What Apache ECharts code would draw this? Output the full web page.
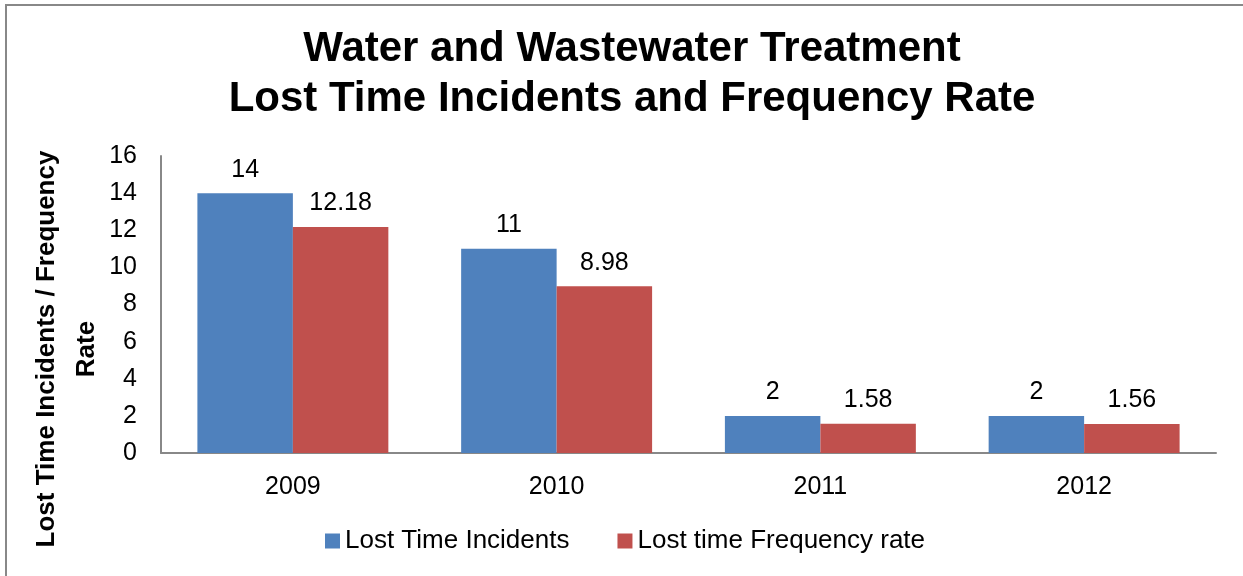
<!DOCTYPE html>
<html>
<head>
<meta charset="utf-8">
<script src="https://cdn.jsdelivr.net/npm/echarts@6/dist/echarts.min.js"></script>
<style>
  html, body { margin: 0; padding: 0; background: #fff; }
  #chart { width: 1243px; height: 576px; }
</style>
</head>
<body>
<div id="chart"></div>
<script>
const years = ['2009', '2010', '2011', '2012'];
const lostTimeIncidents = [14, 11, 2, 2];
const frequencyRate = [12.18, 8.98, 1.58, 1.56];
const yTicks = { min: 0, max: 16, interval: 2 };

const myChart = echarts.init(document.getElementById('chart'));
const font = 'Liberation Sans, Arial, sans-serif';

const option = {
  backgroundColor: '#fff',
  animation: false,
  textStyle: { fontFamily: font },
  title: {
    text: 'Water and Wastewater Treatment\nLost Time Incidents and Frequency Rate',
    left: 627,
    textAlign: 'center',
    top: 19,
    textStyle: { fontSize: 42, fontWeight: 'bold', color: '#000', lineHeight: 50, fontFamily: font }
  },
  legend: {
    bottom: 17,
    left: 320,
    itemWidth: 15,
    itemHeight: 15,
    itemGap: 48,
    icon: 'rect',
    textStyle: { fontSize: 26, color: '#000', fontFamily: font }
  },
  grid: { left: 161, right: 27, top: 156, bottom: 123 },
  xAxis: {
    type: 'category',
    data: years,
    axisLine: { lineStyle: { color: '#888', width: 2 } },
    axisTick: { show: false },
    axisLabel: { fontSize: 25, color: '#000', margin: 22 }
  },
  yAxis: {
    type: 'value',
    min: yTicks.min,
    max: yTicks.max,
    interval: yTicks.interval,
    axisLine: { show: true, lineStyle: { color: '#888', width: 2 } },
    axisTick: { show: false },
    splitLine: { show: false },
    axisLabel: { fontSize: 25, color: '#000', margin: 24 }
  },
  graphic: [
    {
      type: 'rect',
      shape: { x: 6, y: 5, width: 1260, height: 600 },
      style: { fill: 'none', stroke: '#888', lineWidth: 2 },
      silent: true
    },
    {
      type: 'text',
      x: 67,
      y: 349,
      rotation: Math.PI / 2,
      style: {
        text: 'Lost Time Incidents / Frequency\nRate',
        font: 'bold 26px ' + font,
        fill: '#000',
        align: 'center',
        verticalAlign: 'middle',
        lineHeight: 40
      }
    }
  ],
  series: [
    {
      name: 'Lost Time Incidents',
      type: 'bar',
      data: lostTimeIncidents,
      barGap: 0,
      barCategoryGap: '27.6%',
      itemStyle: { color: '#4F81BD' },
      label: { show: true, position: 'top', distance: 11, fontSize: 25, color: '#000' }
    },
    {
      name: 'Lost time Frequency rate',
      type: 'bar',
      data: frequencyRate,
      itemStyle: { color: '#C0504D' },
      label: { show: true, position: 'top', distance: 11, fontSize: 25, color: '#000' }
    }
  ]
};

option && myChart.setOption(option);
</script>
</body>
</html>
